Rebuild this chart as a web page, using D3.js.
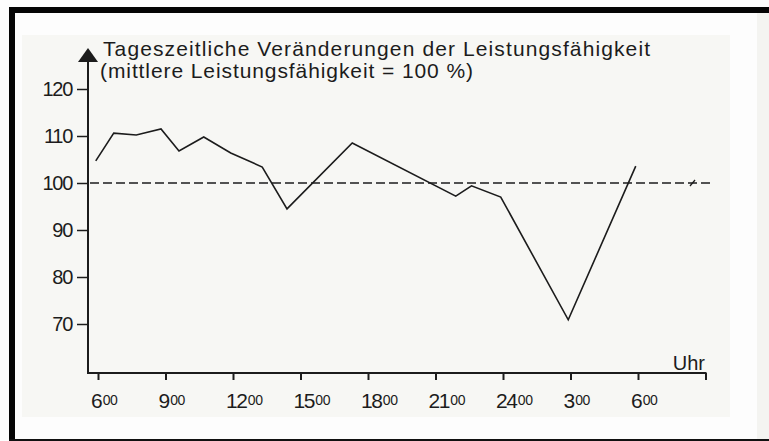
<!DOCTYPE html>
<html>
<head>
<meta charset="utf-8">
<script src="https://cdn.jsdelivr.net/npm/d3@7"></script>
<style>
  body { margin: 0; background: #fff; }
  svg { display: block; font-family: "Liberation Sans", Arial, sans-serif; }
</style>
</head>
<body>
<svg id="drawing_region"></svg>
<script>
// Stunden ab Mitternacht (24 = Mitternacht, 27 = 3 Uhr nachts ...)
const hours = [5.9, 6.7, 7.7, 8.8, 9.6, 10.7, 11.9, 13.3, 14.4, 17.3, 21.9, 22.6, 23.9, 26.9, 29.9];
const values = [104.7, 110.6, 110.2, 111.5, 106.8, 109.8, 106.4, 103.4, 94.5, 108.5, 97.2, 99.4, 97.0, 70.9, 103.6];
const xTicks = [6, 9, 12, 15, 18, 21, 24, 27, 30];
const xTickLabels = ['6', '9', '12', '15', '18', '21', '24', '3', '6'];
const yTicks = [70, 80, 90, 100, 110, 120];
const titleLines = ['Tageszeitliche Veränderungen der Leistungsfähigkeit',
                    '(mittlere Leistungsfähigkeit = 100 %)'];
const unitLabel = 'Uhr';
const meanValue = 100;

class LineChart {
  constructor( config ) {
    this.config = {
      parent: config.parent,
      width: config.width || 769,
      height: config.height || 441
    }
    this.init();
  }

  init() {
    let self = this;
    self.svg = d3.select(self.config.parent)
        .attr('width', self.config.width)
        .attr('height', self.config.height);

    // x: 6 Uhr bei 98px, 22.5px pro Stunde
    self.x = d3.scaleLinear().domain([6, 33]).range([98, 705.5]);
    self.y = d3.scaleLinear().domain([70, 120]).range([324, 89]);
    self.ink = '#1c1c1c';
  }

  render() {
    let self = this;
    const svg = self.svg;

    // Buchseite / Scanrahmen
    svg.append('rect').attr('x', 0).attr('y', 0).attr('width', 769).attr('height', 441).attr('fill', '#fdfdfd');
    svg.append('rect').attr('x', 757).attr('y', 13).attr('width', 12).attr('height', 426).attr('fill', '#f4f4f1');
    svg.append('rect').attr('x', 22).attr('y', 35).attr('width', 708).attr('height', 382).attr('fill', '#f7f7f4');
    svg.append('rect').attr('x', 9).attr('y', 7).attr('width', 760).attr('height', 6).attr('fill', '#050505');
    svg.append('rect').attr('x', 9).attr('y', 7).attr('width', 6).attr('height', 434).attr('fill', '#050505');
    svg.append('rect').attr('x', 9).attr('y', 439).attr('width', 760).attr('height', 2).attr('fill', '#111');

    const g = svg.append('g');

    // y-Achse
    const yAxis = g.append('g')
        .attr('transform', 'translate(88,0)')
        .call(d3.axisLeft(self.y).tickValues(yTicks).tickSize(11).tickPadding(5));
    yAxis.select('.domain').remove();
    yAxis.selectAll('.tick line').attr('stroke', self.ink).attr('stroke-width', 1.5);
    yAxis.selectAll('.tick text')
        .attr('fill', self.ink)
        .style('font-size', '20px')
        .style('letter-spacing', '-1.3px');

    g.append('line')
        .attr('x1', 88).attr('x2', 88).attr('y1', 60).attr('y2', 374)
        .attr('stroke', self.ink).attr('stroke-width', 2);
    g.append('path')
        .attr('d', 'M88,48 L98,62 L78,62 Z')
        .attr('fill', self.ink);

    // x-Achse
    const xAxis = g.append('g')
        .attr('transform', 'translate(0,373)')
        .call(d3.axisBottom(self.x).tickValues(xTicks.concat([33])).tickSize(7).tickFormat(''));
    xAxis.select('.domain').remove();
    xAxis.selectAll('.tick line').attr('stroke', self.ink).attr('stroke-width', 2);
    g.append('line')
        .attr('x1', 87).attr('x2', self.x(33) + 1).attr('y1', 373).attr('y2', 373)
        .attr('stroke', self.ink).attr('stroke-width', 2);

    const labels = g.selectAll('text.xlab')
        .data(xTicks)
        .enter()
        .append('text')
        .attr('class', 'xlab')
        .attr('x', d => self.x(d) - 7)
        .attr('y', 408)
        .attr('fill', self.ink)
        .style('font-size', '21px');
    labels.append('tspan').text((d, i) => xTickLabels[i]).style('letter-spacing', '-1.5px');
    labels.append('tspan').text('00').attr('dx', 1.5).attr('dy', -3).style('font-size', '14px').style('letter-spacing', '-0.5px');

    g.append('text')
        .attr('x', 705).attr('y', 370)
        .attr('text-anchor', 'end')
        .attr('fill', self.ink)
        .style('font-size', '20px')
        .text(unitLabel);

    // Titel
    const titleWidths = [547, 373];
    g.selectAll('text.title')
        .data(titleLines)
        .enter()
        .append('text')
        .attr('class', 'title')
        .attr('x', (d, i) => i === 0 ? 103 : 100)
        .attr('y', (d, i) => 56 + i * 22)
        .attr('fill', self.ink)
        .attr('textLength', (d, i) => titleWidths[i])
        .attr('lengthAdjust', 'spacing')
        .style('font-size', '21px')
        .text(d => d);

    // Mittelwert-Linie
    g.append('line')
        .attr('x1', 90).attr('x2', 712)
        .attr('y1', self.y(meanValue)).attr('y2', self.y(meanValue))
        .attr('stroke', self.ink).attr('stroke-width', 1.6)
        .attr('stroke-dasharray', '9,4');
    g.append('line')
        .attr('x1', 690).attr('x2', 695)
        .attr('y1', self.y(meanValue) + 3).attr('y2', self.y(meanValue) - 3)
        .attr('stroke', self.ink).attr('stroke-width', 1.3);

    // Leistungskurve
    const line = d3.line()
        .x((d, i) => self.x(hours[i]))
        .y(d => self.y(d));
    g.append('path')
        .datum(values)
        .attr('d', line)
        .attr('fill', 'none')
        .attr('stroke', self.ink)
        .attr('stroke-width', 1.6)
        .attr('stroke-linejoin', 'miter');
  }
}

const chart = new LineChart({ parent: '#drawing_region', width: 769, height: 441 });
chart.render();
</script>
</body>
</html>
